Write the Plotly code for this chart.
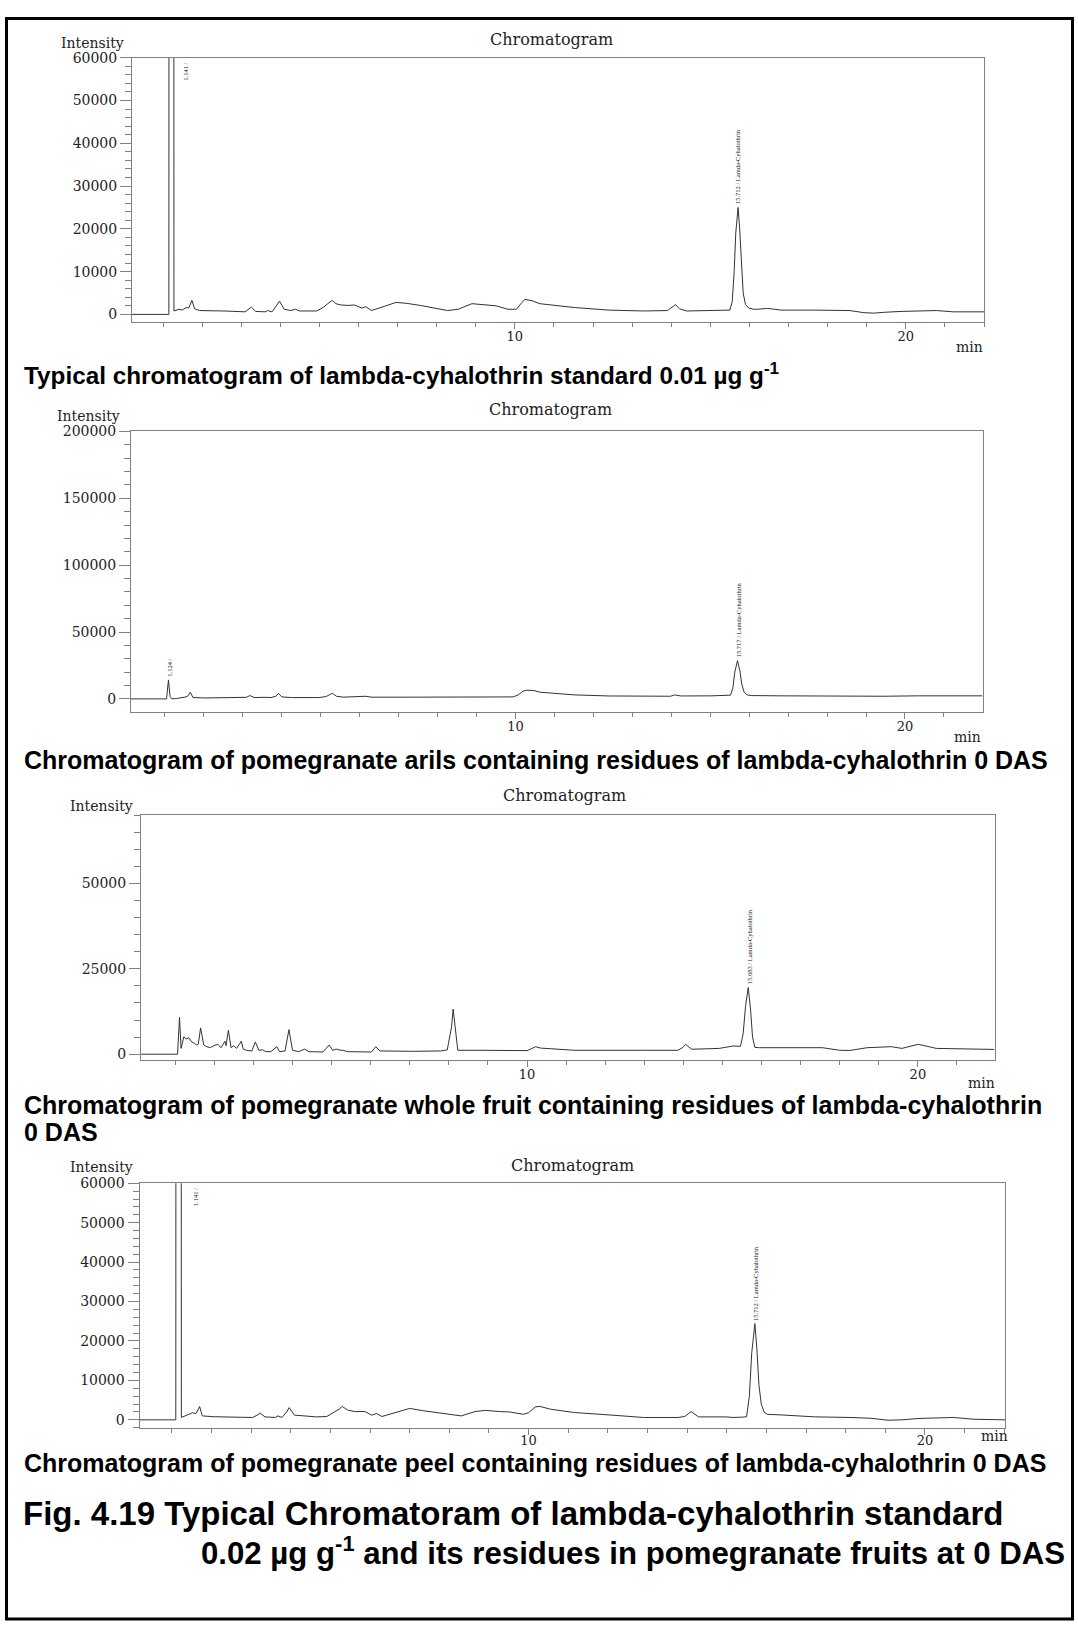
import plotly.graph_objects as go

W, H = 1078, 1629

# ---------------- data (retention time in min, intensity) ----------------
std_time = [0.20, 1.15, 1.16, 1.27, 1.28, 1.41, 1.49, 1.59, 1.66, 1.74, 1.81, 1.94, 2.56, 3.00, 3.10, 3.26, 3.37,
            3.61, 3.68, 3.79, 3.98, 4.10, 4.27, 4.39, 4.49, 4.93, 5.11, 5.20, 5.27, 5.33, 5.42, 5.55, 5.73, 5.90,
            6.08, 6.19, 6.33, 6.48, 6.70, 6.96, 7.22, 7.58, 7.93, 8.28, 8.55, 8.90, 9.16, 9.52, 9.82, 10.04, 10.18,
            10.26, 10.44, 10.64, 11.53, 12.41, 13.29, 13.90, 14.04, 14.11, 14.21, 14.39, 14.96, 15.31, 15.50,
            15.56, 15.61, 15.65, 15.71, 15.75, 15.79, 15.84, 15.90, 15.98, 16.10, 16.20, 16.46, 16.81, 17.69,
            18.57, 18.93, 19.19, 19.46, 19.90, 20.78, 21.22, 22.01]
std_int = [0, 0, 300000, 300000, 800, 1200, 1000, 1600, 1500, 3300, 1300, 900, 800, 600, 600, 1700, 700,
           600, 900, 600, 3100, 1200, 900, 1200, 800, 800, 1700, 2400, 2800, 3300, 2500, 2200, 2100, 2200,
           1500, 1800, 900, 1400, 2000, 2800, 2600, 2100, 1500, 900, 1200, 2500, 2300, 2000, 1200, 1200, 2800,
           3500, 3200, 2500, 1600, 1000, 800, 900, 1800, 2300, 1300, 800, 900, 900, 1000,
           3000, 10000, 19000, 25000, 20000, 12000, 5000, 2300, 1500, 1200, 1200, 1400, 1000, 1000,
           900, 400, 300, 500, 700, 900, 600, 600]

arils_time = [0.13, 1.00, 1.04, 1.09, 1.13, 1.17, 1.30, 1.54, 1.60, 1.65, 1.72, 2.03, 2.92, 3.09, 3.18, 3.29,
              3.58, 3.72, 3.85, 3.91, 4.00, 4.25, 4.96, 5.14, 5.23, 5.30, 5.40, 5.58, 6.16, 6.29, 7.36, 8.25,
              9.14, 9.94, 10.07, 10.19, 10.29, 10.47, 10.63, 11.07, 11.51, 12.39, 13.27, 13.98, 14.09, 14.24,
              15.04, 15.52, 15.58, 15.63, 15.70, 15.76, 15.81, 15.87, 15.95, 16.05, 16.80, 18.92, 19.45, 20.33,
              21.99]
arils_int = [0, 0, 0, 14200, 2000, 0, 300, 1500, 2500, 5000, 1000, 700, 700, 1200, 2500, 1000,
             1200, 1000, 2000, 4200, 1500, 1000, 1000, 1800, 3200, 4200, 2000, 1300, 2000, 1300, 1300, 1300,
             1500, 1500, 3000, 5700, 6500, 6300, 5000, 3800, 3000, 2200, 2000, 2000, 3000, 2200,
             2300, 2800, 8000, 20000, 28600, 21000, 11000, 5000, 3000, 2500, 2300, 1700, 2000, 2300,
             2300]

fruit_time = [0.13, 1.06, 1.11, 1.15, 1.22, 1.28, 1.35, 1.42, 1.49, 1.55, 1.59, 1.65, 1.73, 1.81, 1.90, 1.99,
              2.09, 2.17, 2.23, 2.27, 2.30, 2.36, 2.43, 2.50, 2.57, 2.63, 2.69, 2.74, 2.83, 2.96, 3.05, 3.14,
              3.23, 3.32, 3.45, 3.60, 3.67, 3.81, 3.91, 4.00, 4.16, 4.31, 4.42, 4.78, 4.94, 5.03, 5.12, 5.22,
              5.31, 5.40, 6.02, 6.13, 6.24, 7.08, 7.79, 7.96, 8.07, 8.11, 8.16, 8.23, 8.85, 9.47, 10.00, 10.13,
              10.22, 10.34, 11.22, 12.98, 13.86, 13.99, 14.06, 14.21, 14.92, 15.27, 15.46, 15.53, 15.59, 15.66,
              15.72, 15.77, 15.83, 15.95, 16.50, 17.56, 18.00, 18.26, 18.70, 19.32, 19.59, 20.01, 20.47, 21.96]
fruit_int = [0, 0, 10800, 1700, 5100, 4500, 4800, 3600, 3200, 2700, 2900, 7700, 2700, 2200, 1900, 2500,
             2900, 1900, 3000, 3800, 2500, 7000, 1900, 2500, 1700, 2700, 3800, 1500, 1100, 950, 3600, 1150,
             1300, 750, 750, 2200, 750, 950, 7200, 1150, 750, 1500, 750, 650, 2700, 1150, 1500, 1200,
             1100, 750, 650, 2200, 950, 850, 950, 1250, 8000, 13200, 8000, 1150, 1150, 1150, 1050, 1700,
             2200, 1800, 1150, 1150, 1150, 2000, 2900, 1450, 1700, 2400, 2300, 6000, 14000, 19500,
             13000, 5000, 2000, 1900, 1900, 1900, 1150, 1100, 1900, 2200, 1700, 2900, 1700, 1400]

peel_time = [0.18, 1.10, 1.11, 1.23, 1.24, 1.30, 1.43, 1.52, 1.61, 1.66, 1.70, 1.77, 2.04, 2.74, 3.04, 3.17,
             3.23, 3.35, 3.61, 3.68, 3.78, 3.91, 3.96, 4.09, 4.39, 4.65, 4.91, 5.22, 5.30, 5.43, 5.61, 5.87,
             6.04, 6.17, 6.30, 6.65, 7.00, 7.35, 7.70, 8.13, 8.30, 8.65, 8.91, 9.26, 9.52, 9.87, 10.00, 10.17,
             10.29, 10.55, 11.16, 12.03, 12.90, 13.77, 13.94, 14.10, 14.29, 14.98, 15.16, 15.42, 15.50, 15.57,
             15.63, 15.71, 15.76, 15.81, 15.87, 15.94, 16.02, 16.37, 17.24, 18.11, 18.64, 19.07, 19.42, 19.85,
             20.72, 21.24, 22.03]
peel_int = [0, 0, 300000, 300000, 600, 800, 1400, 1800, 1600, 2500, 3400, 1000, 800, 650, 600, 1300,
            1700, 750, 600, 1000, 600, 2200, 3100, 1200, 1000, 750, 850, 2700, 3400, 2500, 2100, 2100,
            1200, 1600, 850, 1850, 2900, 2300, 1850, 1200, 1000, 2100, 2400, 2100, 2000, 1400, 1800, 3300,
            3400, 2700, 1850, 1250, 600, 600, 850, 2100, 750, 750, 600, 700, 800, 6000,
            17000, 24400, 18000, 9000, 4000, 2000, 1400, 1250, 750, 600, 400, -100, 0, 350,
            600, 150, 0]

panel_traces = [(std_time, std_int), (arils_time, arils_int), (fruit_time, fruit_int), (peel_time, peel_int)]

peak_labels = [
    [(1.141, None, "1.141 /"), (15.712, 25000, "15.712 / Lamda-Cyhalothrin")],
    [(1.124, 14200, "1.124 /"), (15.717, 28600, "15.717 / Lamda-Cyhalothrin")],
    [(15.683, 19500, "15.683 / Lamda-Cyhalothrin")],
    [(1.141, None, "1.141 /"), (15.712, 24400, "15.712 / Lamda-Cyhalothrin")],
]

captions = [
    "Typical chromatogram of lambda-cyhalothrin standard 0.01 µg g<sup>-1</sup>",
    "Chromatogram of pomegranate arils containing residues of lambda-cyhalothrin 0 DAS",
    "Chromatogram of pomegranate whole fruit containing residues of lambda-cyhalothrin",
    "0 DAS",
    "Chromatogram of pomegranate peel containing residues of lambda-cyhalothrin 0 DAS",
]
fig_caption = ["Fig. 4.19 Typical Chromatoram of lambda-cyhalothrin standard",
               "0.02 µg g<sup>-1</sup> and its residues in pomegranate fruits at 0 DAS"]

# ---------------- layout geometry (pixels) ----------------
panels = [
    dict(l=132, r=984, t=50, b=316, xr=[0.207, 22.0], yr=[-1790, 60000], dmaj=10000, dmin=2000,
         cx=551, cy=32, ix=92, iy=35, mx=969, my=341, so=-4),
    dict(l=131, r=982.5, t=426, b=708.5, xr=[0.128, 21.99], yr=[-9900, 200000], dmaj=50000, dmin=10000,
         cx=550, cy=404, ix=88, iy=411, mx=967, my=733, so=-4),
    dict(l=141, r=994.5, t=812, b=1059, xr=[0.125, 21.96], yr=[-1840, 70000], dmaj=25000, dmin=5000,
         cx=564, cy=792, ix=101, iy=803, mx=981, my=1082, so=-4),
    dict(l=139.5, r=1005, t=1182.5, b=1428.5, xr=[0.184, 22.02], yr=[-2000, 60000], dmaj=10000, dmin=2000,
         cx=572, cy=1165, ix=101, iy=1166, mx=994, my=1437, so=-5),
]

def fx(p):
    return p / W

def fy(p):
    return 1 - p / H

AX = '#808080'
TXT = '#222222'
SERIF = 'DejaVu Serif'
LABFONT = dict(family='Liberation Serif, Times New Roman, serif', size=6.5, color='#111111')

fig = go.Figure()
annotations = []
layout = dict(width=W, height=H, margin=dict(l=0, r=0, t=0, b=0), paper_bgcolor='white',
              plot_bgcolor='white', showlegend=False)

for k, (p, (tt, ii), labs) in enumerate(zip(panels, panel_traces, peak_labels), start=1):
    xa = 'xaxis' if k == 1 else f'xaxis{k}'
    ya = 'yaxis' if k == 1 else f'yaxis{k}'
    xr = 'x' if k == 1 else f'x{k}'
    yr = 'y' if k == 1 else f'y{k}'
    fig.add_trace(go.Scatter(x=tt, y=ii, mode='lines', line=dict(color='#333333', width=1),
                             xaxis=xr, yaxis=yr, hoverinfo='skip'))
    layout[xa] = dict(domain=[fx(p['l']), fx(p['r'])], anchor=yr, range=p['xr'], showgrid=False,
                      zeroline=False, showline=True, linecolor=AX, linewidth=1, mirror=True,
                      ticks='outside', ticklen=6, tickcolor=AX, tickmode='linear', tick0=0, dtick=10,
                      ticklabelstandoff=p['so'],
                      tickfont=dict(family=SERIF, size=13, color=TXT),
                      minor=dict(dtick=1, tick0=0, ticks='outside', ticklen=4, tickcolor=AX, showgrid=False))
    layout[ya] = dict(domain=[fy(p['b']), fy(p['t'])], anchor=xr, range=p['yr'], showgrid=False,
                      zeroline=False, showline=True, linecolor=AX, linewidth=1, mirror=True,
                      ticks='outside', ticklen=11, tickcolor=AX, tickmode='linear', tick0=0, dtick=p['dmaj'],
                      tickformat='d', tickfont=dict(family=SERIF, size=14, color=TXT),
                      minor=dict(dtick=p['dmin'], tick0=0, ticks='outside', ticklen=6, tickcolor=AX,
                                 showgrid=False))
    annotations.append(dict(text='Chromatogram', x=fx(p['cx']), y=fy(p['cy']), xref='paper', yref='paper',
                            showarrow=False, xanchor='center', yanchor='middle',
                            font=dict(family=SERIF, size=16, color=TXT)))
    annotations.append(dict(text='Intensity', x=fx(p['ix']), y=fy(p['iy']), xref='paper', yref='paper',
                            showarrow=False, xanchor='center', yanchor='middle',
                            font=dict(family=SERIF, size=14, color=TXT)))
    annotations.append(dict(text='min', x=fx(p['mx']), y=fy(p['my']), xref='paper', yref='paper',
                            showarrow=False, xanchor='center', yanchor='middle',
                            font=dict(family=SERIF, size=14, color=TXT)))
    for (pt, pv, ptxt) in labs:
        if pv is None:
            annotations.append(dict(text=ptxt, x=pt, y=p['yr'][1], xref=xr, yref=yr, showarrow=False,
                                    textangle=-90, xanchor='left', yanchor='top', xshift=12, yshift=-3,
                                    font=LABFONT))
        else:
            annotations.append(dict(text=ptxt, x=pt, y=pv, xref=xr, yref=yr, showarrow=False,
                                    textangle=-90, xanchor='center', yanchor='bottom', yshift=1,
                                    font=LABFONT))

cap_pos = [368, 757, 1104, 1131, 1464]
cap_size = [24.3, 25, 25, 25, 25]
for txt, yy, sz in zip(captions, cap_pos, cap_size):
    annotations.append(dict(text='<b>' + txt + '</b>', x=fx(22), y=fy(yy), xref='paper', yref='paper',
                            showarrow=False, xanchor='left', yanchor='middle',
                            font=dict(family='Liberation Sans, Arial, sans-serif', size=sz, color='black')))

annotations.append(dict(text='<b>' + fig_caption[0] + '</b>', x=fx(21), y=fy(1515), xref='paper', yref='paper',
                        showarrow=False, xanchor='left', yanchor='middle',
                        font=dict(family='Liberation Sans, Arial, sans-serif', size=33, color='black')))
annotations.append(dict(text='<b>' + fig_caption[1] + '</b>', x=fx(1067), y=fy(1553), xref='paper',
                        yref='paper', showarrow=False, xanchor='right', yanchor='middle',
                        font=dict(family='Liberation Sans, Arial, sans-serif', size=31.2, color='black')))

layout['annotations'] = annotations
layout['shapes'] = [dict(type='rect', xref='paper', yref='paper', x0=fx(6.5), x1=fx(1072.5), y0=fy(1621),
                         y1=fy(10.5), line=dict(color='black', width=3), fillcolor='rgba(0,0,0,0)')]
fig.update_layout(**layout)
fig.write_html("out.html")
